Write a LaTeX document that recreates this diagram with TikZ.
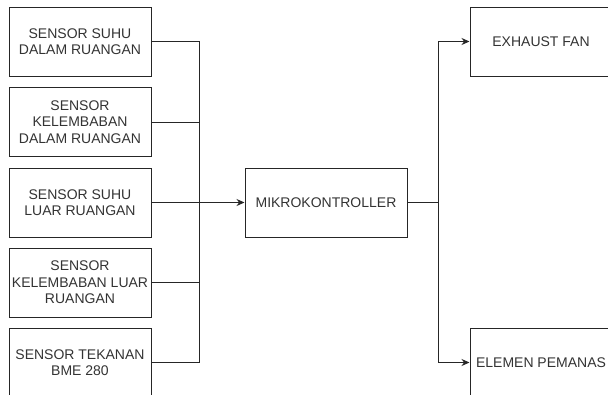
\documentclass[tikz,border=0pt]{standalone}
\usepackage{fontspec}
\setmainfont{Liberation Sans}
\usetikzlibrary{arrows.meta,positioning}

\begin{document}
\begin{tikzpicture}[
  x=1pt, y=-1pt,
  blok/.style={draw=black!85, line width=1pt, minimum width=142pt, minimum height=69pt,
    inner sep=0pt, align=center, text=black!80, font=\fontsize{14}{16.5}\selectfont},
  jalur/.style={draw=black!85, line width=1pt},
  panah/.style={jalur, -{Stealth[length=8pt,width=7pt]}}
]
  \useasboundingbox (0,0) rectangle (608,394);
  \clip (0,0) rectangle (608,394);
  % sensor di kiri
  \node[blok] (s1) at (80,41.5)  {SENSOR SUHU\\DALAM RUANGAN};
  \node[blok] (s2) at (80,122)   {SENSOR\\KELEMBABAN\\DALAM RUANGAN};
  \node[blok] (s3) at (80,202.5) {SENSOR SUHU\\LUAR RUANGAN};
  \node[blok] (s4) at (80,282.5) {SENSOR\\KELEMBABAN LUAR\\RUANGAN};
  \node[blok] (s5) at (80,362.5) {SENSOR TEKANAN\\BME 280};
  \node[blok, minimum width=162pt] (mcu) at (326,202.5) {MIKROKONTROLLER};
  \node[blok] (fan) at (541,41.5)  {EXHAUST FAN};
  \node[blok] (heater) at (541,362.5) {ELEMEN PEMANAS};
  \coordinate (jl) at (199,202.5);
  \coordinate (jr) at (438,202.5);
  % bus masukan
  \draw[jalur] (s1.east) -| (jl);
  \draw[jalur] (s2.east) -| (jl);
  \draw[jalur] (s4.east) -| (jl);
  \draw[jalur] (s5.east) -| (jl);
  \draw[panah] (s3.east) -- (mcu.west);
  % keluaran
  \draw[jalur] (mcu.east) -- (jr);
  \draw[panah] (jr) |- (fan.west);
  \draw[panah] (jr) |- (heater.west);
\end{tikzpicture}
\end{document}
